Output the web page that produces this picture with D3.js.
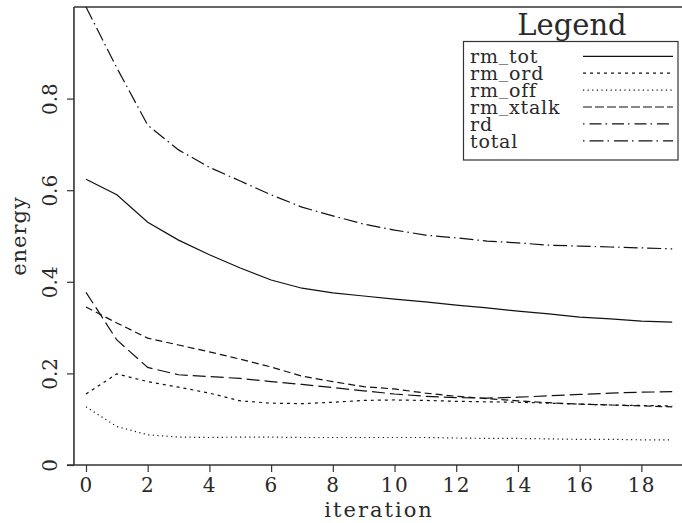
<!DOCTYPE html>
<html>
<head>
<meta charset="utf-8">
<script src="https://cdn.jsdelivr.net/npm/d3@7"></script>
<style>
  html, body { margin: 0; padding: 0; background: #fff; }
  svg { display: block; }
  text { font-family: "DejaVu Serif", "Liberation Serif", serif; fill: #2a2a2a; }
</style>
</head>
<body>
<svg id="chart" width="682" height="523"></svg>
<script>
// Energy per iteration for each term
const iterations = d3.range(0, 20);
const rmTot   = [0.624, 0.590, 0.530, 0.491, 0.459, 0.430, 0.404, 0.386, 0.376, 0.369, 0.362, 0.356, 0.349, 0.343, 0.336, 0.330, 0.323, 0.319, 0.314, 0.312];
const rmOrd   = [0.155, 0.199, 0.182, 0.170, 0.157, 0.140, 0.135, 0.134, 0.137, 0.141, 0.142, 0.141, 0.139, 0.138, 0.137, 0.135, 0.133, 0.131, 0.130, 0.129];
const rmOff   = [0.127, 0.084, 0.066, 0.061, 0.060, 0.061, 0.061, 0.060, 0.060, 0.060, 0.060, 0.060, 0.059, 0.058, 0.058, 0.057, 0.056, 0.056, 0.055, 0.055];
const rmXtalk = [0.345, 0.310, 0.277, 0.262, 0.247, 0.231, 0.214, 0.194, 0.182, 0.171, 0.166, 0.157, 0.150, 0.145, 0.140, 0.136, 0.133, 0.131, 0.129, 0.127];
const rd      = [0.377, 0.273, 0.213, 0.197, 0.193, 0.189, 0.182, 0.176, 0.169, 0.162, 0.155, 0.150, 0.147, 0.146, 0.148, 0.151, 0.154, 0.157, 0.159, 0.160];
const total   = [1.000, 0.867, 0.742, 0.688, 0.650, 0.620, 0.590, 0.563, 0.544, 0.526, 0.513, 0.502, 0.496, 0.489, 0.485, 0.480, 0.478, 0.476, 0.474, 0.472];

const seriesNames = ["rm_tot", "rm_ord", "rm_off", "rm_xtalk", "rd", "total"];
const seriesValues = [rmTot, rmOrd, rmOff, rmXtalk, rd, total];
const dashes = [null, "3,4", "1.2,3.4", "7,4", "13,5", "14,4,1.5,4"];
const legendDashes = [null, "3,4", "1.2,3.4", "9,3", "1.5,5,12,4", "1.5,5,14,4"];

const xTicks = [0, 2, 4, 6, 8, 10, 12, 14, 16, 18];
const yTicks = [0, 0.2, 0.4, 0.6, 0.8];

const svg = d3.select("#chart");

const x = d3.scaleLinear().domain([0, 19]).range([86, 672.2]);
const y = d3.scaleLinear().domain([0, 1]).range([465, 7]);

const frameLeft = x(-0.39), frameRight = 720, frameTop = y(1), frameBottom = y(0);
const axisColor = "#333";
const textFont = "DejaVu Serif";

// Frame: left axis, top edge, bottom axis
svg.append("line").attr("x1", frameLeft).attr("x2", frameLeft).attr("y1", frameTop).attr("y2", frameBottom)
  .attr("stroke", axisColor).attr("stroke-width", 1.6);
svg.append("line").attr("x1", frameLeft).attr("x2", frameRight).attr("y1", frameTop).attr("y2", frameTop)
  .attr("stroke", axisColor).attr("stroke-width", 1.6);
svg.append("line").attr("x1", frameLeft - 7).attr("x2", frameRight).attr("y1", frameBottom).attr("y2", frameBottom)
  .attr("stroke", axisColor).attr("stroke-width", 1.6);

// X axis ticks and labels
const xAxis = d3.axisBottom(x).tickValues(xTicks).tickSize(7).tickPadding(6).tickFormat(d3.format("d"));
const gx = svg.append("g").attr("transform", `translate(0,${frameBottom})`).call(xAxis);
gx.select(".domain").remove();
gx.selectAll(".tick line").attr("stroke", axisColor).attr("stroke-width", 1.2);
gx.selectAll(".tick text").attr("font-size", 20).attr("font-family", textFont)
  .attr("fill", "#2a2a2a").attr("letter-spacing", 1.5);

// Y axis ticks and rotated labels
const yAxis = d3.axisLeft(y).tickValues(yTicks).tickSize(7).tickFormat(d => d === 0 ? "0" : d3.format(".1f")(d));
const gy = svg.append("g").attr("transform", `translate(${frameLeft},0)`).call(yAxis);
gy.select(".domain").remove();
gy.selectAll(".tick line").attr("stroke", axisColor).attr("stroke-width", 1.2);
gy.selectAll(".tick text")
  .attr("font-size", 20).attr("font-family", textFont).attr("fill", "#2a2a2a")
  .attr("x", null).attr("dy", null)
  .attr("text-anchor", "middle")
  .attr("transform", `translate(${57 - frameLeft},0) rotate(-90)`);

// Axis titles
svg.append("text").attr("x", x(9.5)).attr("y", 517).attr("text-anchor", "middle")
  .attr("font-size", 21).attr("letter-spacing", 2).text("iteration");
svg.append("text").attr("transform", `translate(26,${(frameTop + frameBottom) / 2}) rotate(-90)`)
  .attr("text-anchor", "middle").attr("font-size", 21).attr("letter-spacing", 1).text("energy");

// Series lines
const line = d3.line().x((d, i) => x(iterations[i])).y(d => y(d));
const plot = svg.append("g");
seriesValues.forEach((vals, k) => {
  plot.append("path").datum(vals)
    .attr("d", line)
    .attr("fill", "none")
    .attr("stroke", "#111")
    .attr("stroke-width", 1.2)
    .attr("stroke-dasharray", dashes[k]);
});

// Legend
const lg = svg.append("g");
lg.append("text").attr("x", 572).attr("y", 35).attr("text-anchor", "middle")
  .attr("font-size", 29).attr("fill", "#3a3a3a").text("Legend");
lg.append("rect").attr("x", 463.5).attr("y", 41.5).attr("width", 214.5).attr("height", 118.5)
  .attr("fill", "#fff").attr("stroke", "#333").attr("stroke-width", 1.2);
const lift = 3.5;
seriesNames.forEach((name, k) => {
  const by = 63.3 + k * 16.9;
  const t = lg.append("text").attr("x", 470).attr("y", by).attr("font-size", 19)
    .attr("letter-spacing", 0.8);
  // underscores sit on the baseline, so lift them slightly
  let raised = false;
  name.split(/(_)/).filter(s => s.length).forEach(part => {
    const ts = t.append("tspan").text(part);
    if (part === "_") { ts.attr("dy", -lift); raised = true; }
    else if (raised) { ts.attr("dy", lift); raised = false; }
  });
  lg.append("line").attr("x1", 583).attr("x2", 673).attr("y1", by - 7).attr("y2", by - 7)
    .attr("stroke", "#111").attr("stroke-width", 1.2)
    .attr("stroke-dasharray", legendDashes[k]);
});
</script>
</body>
</html>
